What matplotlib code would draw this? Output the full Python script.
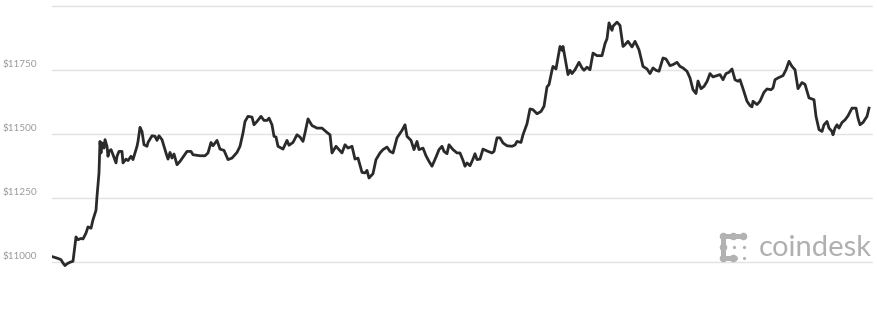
import matplotlib
matplotlib.use("Agg")
import matplotlib.pyplot as plt
from matplotlib.transforms import ScaledTranslation
from matplotlib.lines import Line2D

# time position (arbitrary units along the x axis) and BTC price (USD)
t = [53, 58, 61, 63, 65, 67, 70, 73, 74, 76, 78, 81, 83, 86, 88, 91, 93, 96, 97, 99,
     100, 101, 102, 104, 105, 107, 108, 109, 111, 113, 116, 117, 119, 122, 123, 126, 128, 131, 133, 135,
     137, 138, 140, 142, 144, 147, 148, 152, 155, 157, 159, 162, 164, 166, 168, 170, 172, 174, 177, 180,
     183, 187, 191, 193, 200, 205, 208, 211, 213, 217, 220, 224, 228, 232, 237, 240, 243, 245, 248, 252,
     254, 257, 261, 264, 267, 269, 272, 274, 276, 278, 283, 287, 289, 293, 297, 300, 303, 305, 308, 312,
     317, 322, 327, 330, 332, 336, 339, 342, 345, 348, 352, 355, 358, 362, 365, 367, 369, 373, 376, 380,
     383, 387, 390, 393, 397, 402, 405, 407, 411, 414, 417, 419, 423, 426, 429, 432, 436, 439, 442, 444,
     447, 449, 453, 457, 460, 463, 465, 467, 470, 473, 475, 477, 480, 483, 488, 492, 494, 497, 500, 503,
     507, 512, 515, 517, 521, 523, 527, 530, 533, 537, 541, 544, 547, 549, 552, 553, 556, 558, 560, 562,
     563, 565, 568, 570, 572, 575, 579, 582, 584, 587, 590, 593, 597, 602, 605, 607, 609, 612, 613, 617,
     620, 623, 625, 628, 632, 635, 639, 643, 647, 650, 653, 656, 659, 663, 666, 670, 673, 677, 680, 683,
     687, 690, 693, 696, 698, 701, 704, 707, 710, 713, 717, 720, 723, 726, 729, 732, 735, 738, 740, 743,
     747, 750, 752, 753, 757, 760, 764, 767, 771, 773, 775, 778, 783, 786, 789, 792, 795, 798, 802, 805,
     809, 812, 814, 816, 819, 822, 824, 827, 829, 832, 833, 835, 837, 839, 842, 845, 848, 852, 856, 858,
     860, 863, 867, 869]
price = [11020, 11014, 11009, 10996, 10986, 10993, 10999, 11003, 11035, 11098, 11087, 11092, 11090, 11113, 11137, 11132, 11165, 11202, 11256, 11348,
         11471, 11426, 11465, 11445, 11478, 11452, 11413, 11432, 11439, 11419, 11387, 11413, 11432, 11432, 11387, 11402, 11396, 11413, 11400, 11426,
         11452, 11471, 11526, 11510, 11458, 11452, 11467, 11493, 11491, 11475, 11493, 11478, 11452, 11426, 11402, 11428, 11406, 11422, 11380, 11393,
         11410, 11432, 11432, 11419, 11415, 11415, 11426, 11467, 11454, 11475, 11441, 11436, 11400, 11406, 11428, 11452, 11504, 11549, 11569, 11566,
         11536, 11549, 11569, 11553, 11553, 11562, 11536, 11491, 11488, 11452, 11441, 11475, 11456, 11467, 11497, 11488, 11471, 11504, 11559, 11533,
         11523, 11523, 11506, 11497, 11426, 11452, 11439, 11426, 11458, 11445, 11452, 11402, 11406, 11350, 11348, 11358, 11328, 11345, 11400, 11426,
         11439, 11449, 11432, 11426, 11485, 11514, 11536, 11491, 11475, 11439, 11471, 11439, 11445, 11415, 11393, 11374, 11410, 11439, 11452, 11432,
         11423, 11458, 11439, 11426, 11426, 11397, 11374, 11387, 11376, 11402, 11423, 11400, 11402, 11441, 11432, 11426, 11432, 11485, 11485, 11465,
         11454, 11452, 11457, 11471, 11467, 11497, 11540, 11598, 11595, 11579, 11588, 11608, 11684, 11693, 11749, 11764, 11754, 11797, 11842, 11827,
         11842, 11797, 11732, 11749, 11736, 11751, 11780, 11758, 11749, 11761, 11751, 11816, 11806, 11806, 11853, 11872, 11934, 11905, 11921, 11937,
         11924, 11842, 11849, 11862, 11840, 11862, 11829, 11764, 11754, 11736, 11758, 11749, 11745, 11797, 11793, 11767, 11771, 11780, 11764, 11758,
         11745, 11719, 11673, 11658, 11707, 11677, 11686, 11705, 11736, 11723, 11728, 11732, 11712, 11736, 11741, 11754, 11712, 11706, 11712, 11677,
         11628, 11611, 11606, 11628, 11615, 11628, 11663, 11676, 11673, 11680, 11712, 11719, 11728, 11751, 11784, 11764, 11751, 11677, 11701, 11694,
         11641, 11637, 11634, 11569, 11517, 11510, 11536, 11549, 11523, 11510, 11497, 11523, 11536, 11523, 11545, 11555, 11571, 11601, 11601, 11562,
         11536, 11545, 11569, 11601]

yticks = [11000, 11250, 11500, 11750, 12000]
ytick_labels = [r"\$11000", r"\$11250", r"\$11500", r"\$11750", ""]

W, H, DPI = 878, 320, 100
fig = plt.figure(figsize=(W / DPI, H / DPI), dpi=DPI)
fig.patch.set_facecolor("white")

ax_left, ax_right = 52, 873
ax = fig.add_axes([ax_left / W, 0, (ax_right - ax_left) / W, 1])
ax.set_facecolor("none")

# pixel mapping: 11000 at y=262px, 12000 at y=6px (from top)
per_px = 1000 / 256.0
ax.set_ylim(11000 - (H - 262) * per_px, 12000 + 6 * per_px)
ax.set_xlim(ax_left, ax_right)

ax.plot(t, price, color="#2a2a2a", lw=2.0, solid_joinstyle="round", zorder=3)

ax.set_yticks(yticks)
ax.set_yticklabels(ytick_labels)
ax.grid(axis="y", color="#e2e2e2", lw=1.0, zorder=0)
ax.set_axisbelow(True)
ax.tick_params(axis="y", length=0, pad=10.5, labelsize=7.2, labelcolor="#999999")
ax.set_xticks([])
for s in ax.spines.values():
    s.set_visible(False)
for lab in ax.get_yticklabels():
    lab.set_fontfamily("Lato")
    lab.set_transform(lab.get_transform() + ScaledTranslation(0, 6 / DPI, fig.dpi_scale_trans))

# coindesk watermark
logo_col = "#b2b2b2"
fig.text(759 / W, 1 - 256 / H, "coindesk", color="#b0b0b0", fontsize=21,
         family="Lato", ha="left", va="baseline")

PT = 72.0 / DPI  # points per pixel
def fx(x):
    return x / W
def fy(y):
    return 1 - y / H
# bars of the logo
for xs, ys in [((723, 743), (236, 236)), ((723, 723), (236, 258)), ((723, 735), (258, 258))]:
    fig.add_artist(Line2D([fx(v) for v in xs], [fy(v) for v in ys],
                          transform=fig.transFigure, color=logo_col, lw=5.0 * PT,
                          solid_capstyle="round"))
# big dots
big = [(723, 236), (733, 236), (743, 236), (723, 247), (723, 258), (733, 258)]
fig.add_artist(Line2D([fx(p[0]) for p in big], [fy(p[1]) for p in big],
                      transform=fig.transFigure, ls="none", marker="o",
                      markersize=7.6 * PT, color=logo_col, markeredgewidth=0))
small = [(734, 247), (744, 247), (744, 258)]
fig.add_artist(Line2D([fx(p[0]) for p in small], [fy(p[1]) for p in small],
                      transform=fig.transFigure, ls="none", marker="o",
                      markersize=3.2 * PT, color=logo_col, markeredgewidth=0))

fig.savefig("out.png", dpi=DPI, facecolor="white")
